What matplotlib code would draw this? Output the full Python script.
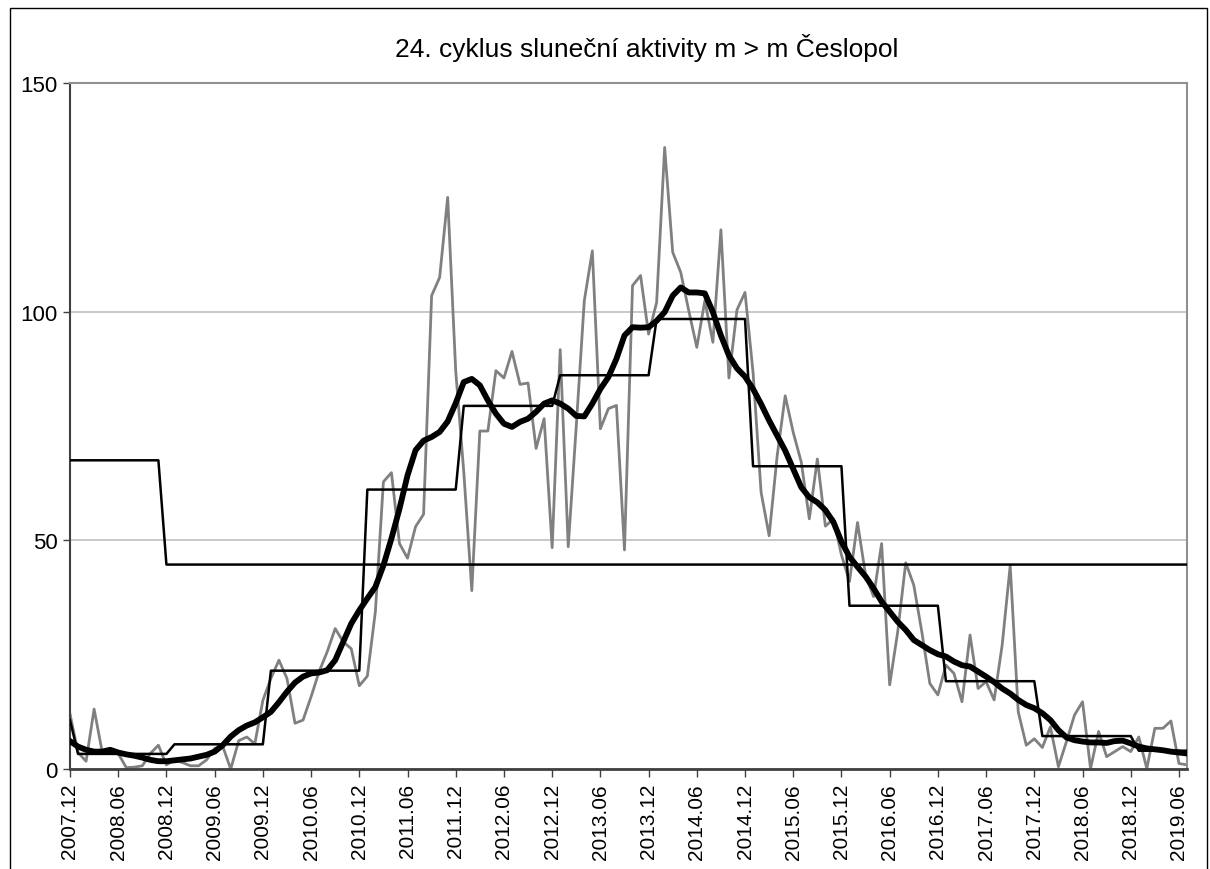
import matplotlib
matplotlib.use("Agg")
import matplotlib.pyplot as plt
from matplotlib.patches import Rectangle

plt.rcParams['font.family'] = ['Liberation Sans', 'DejaVu Sans']

# months 2007.12 .. 2019.07
months = []
y, m = 2007, 12
for k in range(140):
    months.append("%d.%02d" % (y, m))
    m += 1
    if m > 12:
        m = 1
        y += 1

# monthly values (grey)
monthly = [
    12.0, 3.6, 1.7, 13.1, 3.8, 3.8, 3.4, 0.3, 0.4, 0.7, 3.4, 5.2,
    0.9, 2.0, 1.4, 0.7, 0.7, 2.0, 4.5, 5.0, 0.0, 6.2, 7.0, 5.5,
    15.0, 19.8, 23.8, 19.8, 10.0, 10.7, 15.8, 21.3, 25.6, 30.7, 27.8, 26.3,
    18.2, 20.3, 34.4, 62.8, 64.8, 49.3, 46.1, 53.0, 55.7, 103.5, 107.5, 125.0,
    87.0, 65.0, 39.0, 73.9, 73.9, 87.1, 85.5, 91.3, 84.1, 84.4, 70.1, 76.6,
    48.4, 91.7, 48.6, 75.0, 102.4, 113.3, 74.4, 78.8, 79.5, 47.9, 105.7, 107.9,
    95.1, 102.0, 135.9, 113.0, 108.6, 100.2, 92.2, 102.4, 93.3, 117.9, 85.5, 100.4,
    104.2, 86.7, 60.5, 51.0, 68.5, 81.6, 73.6, 67.1, 54.7, 67.8, 53.1, 54.7,
    46.8, 41.0, 53.9, 42.4, 37.7, 49.3, 18.4, 30.0, 45.1, 40.2, 30.0, 18.7,
    16.2, 22.7, 20.9, 14.7, 29.3, 17.6, 19.1, 15.1, 27.1, 44.5, 12.5, 5.2,
    6.6, 4.7, 9.2, 0.5, 6.0, 11.8, 14.7, 0.1, 8.2, 2.7, 3.8, 4.9,
    3.8, 7.0, 0.1, 8.9, 8.9, 10.5, 1.2, 0.9,
]

# smoothed values (thick black)
smoothed = [
    6.1, 4.9, 4.2, 3.8, 3.8, 4.2, 3.6, 3.2, 2.9, 2.5, 2.0, 1.7,
    1.7, 1.9, 2.1, 2.3, 2.7, 3.1, 3.8, 5.2, 7.1, 8.5, 9.5, 10.2,
    11.3, 12.5, 14.6, 16.9, 18.9, 20.2, 20.9, 21.1, 21.6, 23.8, 27.8, 31.8,
    34.7, 37.3, 39.8, 44.5, 50.4, 56.9, 64.2, 69.7, 71.8, 72.6, 73.7, 76.0,
    80.0, 84.6, 85.3, 83.9, 80.6, 77.7, 75.5, 74.8, 75.9, 76.6, 78.1, 79.9,
    80.6, 79.9, 78.8, 77.2, 77.1, 79.9, 83.1, 85.7, 89.7, 94.8, 96.6, 96.5,
    96.6, 98.0, 99.9, 103.5, 105.3, 104.2, 104.2, 104.0, 99.9, 94.8, 90.4, 87.6,
    85.8, 83.1, 79.8, 76.2, 72.9, 69.6, 65.6, 61.6, 59.4, 58.3, 56.6, 54.0,
    49.7, 46.4, 44.2, 42.1, 39.5, 36.6, 34.4, 32.2, 30.4, 28.2, 27.1, 26.0,
    25.1, 24.6, 23.5, 22.7, 22.4, 21.3, 20.2, 19.0, 17.6, 16.5, 15.1, 14.0,
    13.3, 12.2, 10.7, 8.5, 6.9, 6.3, 6.0, 5.8, 5.8, 5.7, 6.1, 6.2,
    5.6, 4.9, 4.5, 4.3, 4.1, 3.8, 3.6, 3.4,
]

# yearly means per year, repeated monthly
year_labels = [2007, 2008, 2009, 2010, 2011, 2012, 2013, 2014, 2015, 2016, 2017, 2018, 2019]
year_means = [10.7, 3.3, 5.4, 21.5, 61.1, 79.4, 86.1, 98.4, 66.2, 35.7, 19.2, 7.2, 4.0]
yearly = [year_means[year_labels.index(int(s[:4]))] for s in months]

# cycle mean line
cycle_prev = 67.5
cycle_mean = 44.7
cycle_change = "2008.12"
cycle = [cycle_prev if s < cycle_change else cycle_mean for s in months]

fig = plt.figure(figsize=(12.1, 8.7), dpi=100)
ax = fig.add_axes([70 / 1210, 1 - 770 / 870, (1187 - 70) / 1210, (770 - 84) / 870])

x = list(range(len(months)))
ax.plot(x, monthly, color='#808080', lw=2.0, zorder=2)
ax.plot(x, cycle, color='black', lw=1.8, zorder=3)
ax.plot(x, yearly, color='black', lw=1.8, zorder=3)
ax.plot(x, smoothed, color='black', lw=4.2, zorder=4, solid_joinstyle='round')

ax.set_xlim(0, len(months) - 1)
ax.set_ylim(0, 150)
ax.set_yticks([0, 50, 100, 150])
ax.yaxis.grid(True, color='#c0c0c0', lw=1.2)
ax.set_axisbelow(True)

ticks = x[::6]
ax.set_xticks(ticks)
ax.set_xticklabels([months[i] for i in ticks], rotation=90, fontsize=15)
ax.tick_params(axis='y', labelsize=16, length=5, width=1, color='#404040', pad=4)
ax.tick_params(axis='x', length=6, width=1, color='#404040', pad=4)

for s in ['top', 'right']:
    ax.spines[s].set_color('#909090')
    ax.spines[s].set_linewidth(1.5)
ax.spines['left'].set_color('#404040')
ax.spines['left'].set_linewidth(1.5)
ax.spines['bottom'].set_color('#404040')
ax.spines['bottom'].set_linewidth(2)

fig.text(647 / 1210, 1 - 48 / 870, "24. cyklus sluneční aktivity m > m Česlopol",
         ha='center', va='center', fontsize=19)

fig.patches.append(Rectangle((10 / 1210, -0.1), 1197 / 1210, 1.1 - 9 / 870,
                             transform=fig.transFigure, fill=False,
                             edgecolor='black', lw=1))

fig.savefig("out.png", dpi=100)
